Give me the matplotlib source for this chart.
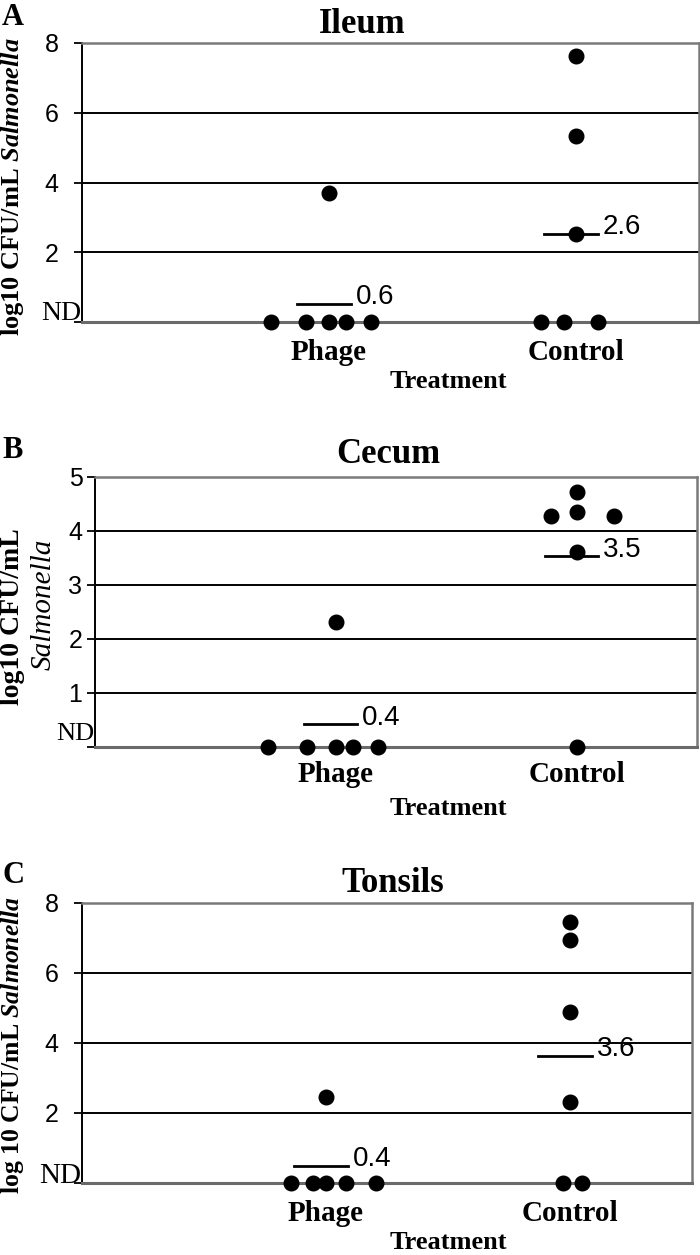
import matplotlib
matplotlib.use("Agg")
import matplotlib.pyplot as plt
import matplotlib.transforms as mtransforms

plt.rcParams['mathtext.fontset'] = 'custom'
plt.rcParams['mathtext.it'] = 'Liberation Serif:italic:bold'
plt.rcParams['mathtext.rm'] = 'Liberation Serif:bold'

SERIF = 'Liberation Serif'
SANS = 'Liberation Sans'
W, H = 700, 1255

categories = ['Phage', 'Control']

# panel A - ileum
ileum_phage = [0, 0, 0, 0, 0, 3.7]
ileum_phage_jit = [-0.235, -0.094, 0, 0.069, 0.172, 0]
ileum_ctrl = [7.62, 5.34, 2.52, 0, 0, 0]
ileum_ctrl_jit = [0, 0, 0, -0.139, -0.045, 0.09]
ileum_means = [0.51, 2.52]
ileum_mean_txt = ['0.6', '2.6']

# panel B - cecum
cecum_phage = [0, 0, 0, 0, 0, 2.31]
cecum_phage_jit = [-0.281, -0.119, 0, 0.07, 0.176, 0]
cecum_ctrl = [4.73, 4.36, 4.28, 4.28, 3.62, 0]
cecum_ctrl_jit = [0, 0, -0.107, 0.157, 0, 0]
cecum_means = [0.42, 3.53]
cecum_mean_txt = ['0.4', '3.5']

# panel C - tonsils
tons_phage = [0, 0, 0, 0, 0, 2.45]
tons_phage_jit = [-0.144, -0.055, 0, 0.082, 0.206, 0]
tons_ctrl = [7.45, 6.95, 4.88, 2.31, 0, 0]
tons_ctrl_jit = [0, 0, 0, 0, -0.027, 0.049]
tons_means = [0.5, 3.64]
tons_mean_txt = ['0.4', '3.6']

# layout in pixels: left, right, top, bottom of the axes box
panels = [
    dict(letter='A', title='Ileum', ymax=8, yticks=[2, 4, 6, 8],
         phage=ileum_phage, pj=ileum_phage_jit, ctrl=ileum_ctrl, cj=ileum_ctrl_jit,
         means=ileum_means, mtxt=ileum_mean_txt,
         box=(82, 699, 43, 322), title_x=362, title_y=33, letter_y=25,
         treat_y=388, tick_fs=18, tick_pad=11, nd_fs=20, nd_up=2, cat_pad=12),
    dict(letter='B', title='Cecum', ymax=5, yticks=[1, 2, 3, 4, 5],
         phage=cecum_phage, pj=cecum_phage_jit, ctrl=cecum_ctrl, cj=cecum_ctrl_jit,
         means=cecum_means, mtxt=cecum_mean_txt,
         box=(95, 697, 477, 747), title_x=388, title_y=463, letter_y=458,
         treat_y=815, tick_fs=18, tick_pad=3, nd_fs=19, nd_up=7, cat_pad=10),
    dict(letter='C', title='Tonsils', ymax=8, yticks=[2, 4, 6, 8],
         phage=tons_phage, pj=tons_phage_jit, ctrl=tons_ctrl, cj=tons_ctrl_jit,
         means=tons_means, mtxt=tons_mean_txt,
         box=(82, 692, 903, 1183), title_x=393, title_y=892, letter_y=883,
         treat_y=1249, tick_fs=18, tick_pad=11, nd_fs=21, nd_up=0, cat_pad=12),
]

fig = plt.figure(figsize=(W / 100, H / 100), dpi=100)


def fx(px):
    return px / W


def fy(py):
    return 1 - py / H


for p in panels:
    l, r, t, b = p['box']
    ax = fig.add_axes([fx(l), fy(b), fx(r) - fx(l), fy(t) - fy(b)])
    ax.set_xlim(0, 2.5)
    ax.set_ylim(0, p['ymax'])
    for yt in p['yticks'][:-1]:
        ax.axhline(yt, color='black', lw=1.4, zorder=1)

    xs = [1 + j for j in p['pj']]
    ax.plot(xs, p['phage'], 'o', color='black', ms=10.5, zorder=3, clip_on=False)
    xs = [2 + j for j in p['cj']]
    ax.plot(xs, p['ctrl'], 'o', color='black', ms=10.5, zorder=3, clip_on=False)

    for i, (m, txt) in enumerate(zip(p['means'], p['mtxt'])):
        c = i + 1
        ax.plot([c - 0.13, c + 0.09], [m, m], color='black', lw=2, zorder=2)
        ax.text(c + 0.11, m + 0.025 * p['ymax'], txt, fontsize=20, family=SANS,
                va='center', ha='left')

    ax.set_yticks([0] + p['yticks'])
    ax.set_yticklabels([''] + [str(v) for v in p['yticks']], fontsize=p['tick_fs'], family=SANS)
    nd_tr = mtransforms.offset_copy(ax.get_yaxis_transform(), fig=fig, x=0, y=p['nd_up'],
                                    units='dots')
    ax.text(-0.001, 0, 'ND', transform=nd_tr, ha='right', va='baseline',
            fontsize=p['nd_fs'], family=SERIF)
    ax.set_xticks([1, 2])
    ax.set_xticklabels(categories, fontsize=21, family=SERIF, fontweight='bold')
    ax.tick_params(axis='x', length=0, pad=p['cat_pad'])
    ax.tick_params(axis='y', length=6, width=1.3, direction='out', pad=p['tick_pad'])

    for s in ['top', 'right']:
        ax.spines[s].set_color('#7a7a7a')
        ax.spines[s].set_linewidth(1.8)
    ax.spines['bottom'].set_color('#6a6a6a')
    ax.spines['bottom'].set_linewidth(2.2)
    ax.spines['left'].set_color('black')
    ax.spines['left'].set_linewidth(1.4)

    fig.text(fx(p['title_x']), fy(p['title_y']), p['title'], ha='center', va='baseline',
             fontsize=25, family=SERIF, fontweight='bold')
    fig.text(fx(2), fy(p['letter_y']), p['letter'], ha='left', va='baseline',
             fontsize=22, family=SERIF, fontweight='bold')
    fig.text(fx(448), fy(p['treat_y']), 'Treatment', ha='center', va='baseline',
             fontsize=19, family=SERIF, fontweight='bold')

# y axis titles
fig.text(fx(13), fy(187), r'log10 CFU/mL $\mathit{Salmonella}$', rotation=90,
         ha='center', va='center', fontsize=19, family=SERIF, fontweight='bold')
fig.text(fx(13), fy(617), 'log10 CFU/mL', rotation=90,
         ha='center', va='center', fontsize=20, family=SERIF, fontweight='bold')
fig.text(fx(44), fy(604), 'Salmonella', rotation=90,
         ha='center', va='center', fontsize=21, family=SERIF, style='italic')
fig.text(fx(13), fy(1045), r'log 10 CFU/mL $\mathit{Salmonella}$', rotation=90,
         ha='center', va='center', fontsize=18.5, family=SERIF, fontweight='bold')

fig.savefig('out.png', dpi=100)
